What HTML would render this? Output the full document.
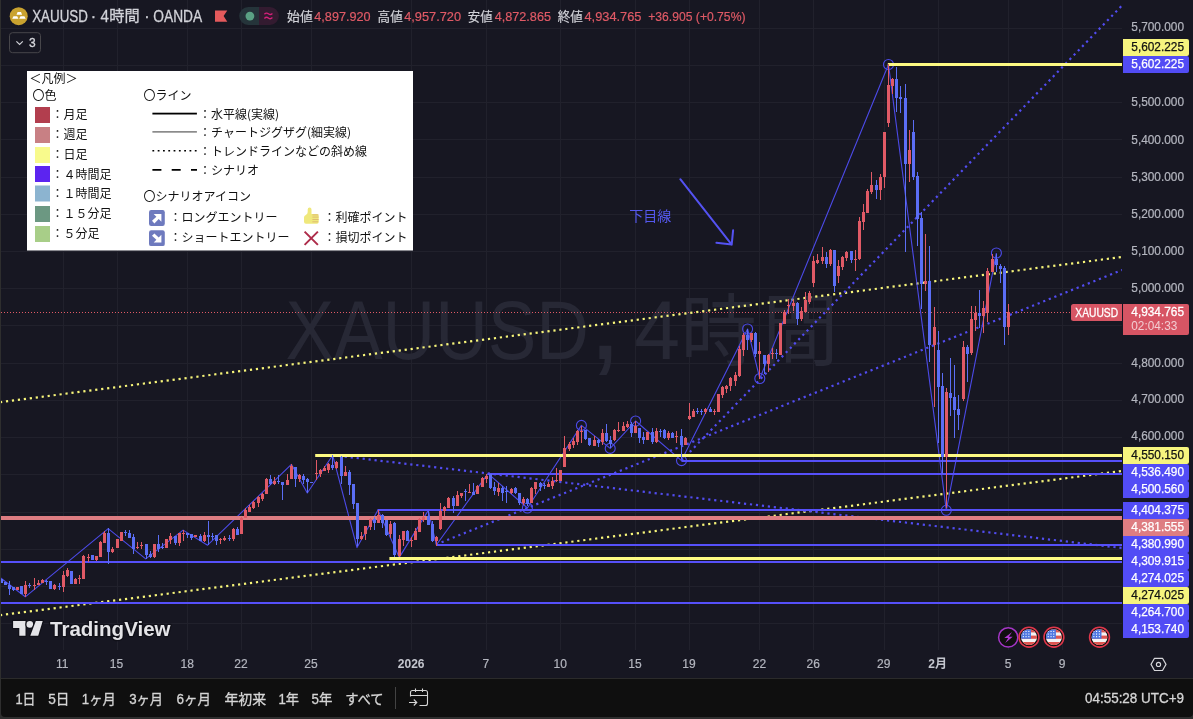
<!DOCTYPE html>
<html lang="ja"><head><meta charset="utf-8"><title>XAUUSD 4時間</title>
<style>html,body{margin:0;padding:0;background:#2e2e2e;overflow:hidden}svg{display:block}</style>
</head><body>
<svg width="1193" height="719" viewBox="0 0 1193 719" font-family="'Liberation Sans','Noto Sans CJK JP',sans-serif">
<rect width="1193" height="719" fill="#2e2e2e"/>
<path d="M1 0H1193V713a4 4 0 0 1 -4 4H5a4 4 0 0 1 -4 -4Z" fill="#0f0f0f"/>
<rect x="1" y="0" width="1192" height="678" fill="#171722"/>
<rect x="1" y="678" width="1192" height="1" fill="#2b2b2b"/>
<g fill="#21212c">
<rect x="63" y="0" width="1" height="650"/>
<rect x="117" y="0" width="1" height="650"/>
<rect x="187" y="0" width="1" height="650"/>
<rect x="241" y="0" width="1" height="650"/>
<rect x="311" y="0" width="1" height="650"/>
<rect x="411" y="0" width="1" height="650"/>
<rect x="486" y="0" width="1" height="650"/>
<rect x="560" y="0" width="1" height="650"/>
<rect x="635" y="0" width="1" height="650"/>
<rect x="689" y="0" width="1" height="650"/>
<rect x="759" y="0" width="1" height="650"/>
<rect x="813" y="0" width="1" height="650"/>
<rect x="884" y="0" width="1" height="650"/>
<rect x="938" y="0" width="1" height="650"/>
<rect x="1008" y="0" width="1" height="650"/>
<rect x="1062" y="0" width="1" height="650"/>
<rect x="1" y="28" width="1121" height="1"/>
<rect x="1" y="65" width="1121" height="1"/>
<rect x="1" y="102" width="1121" height="1"/>
<rect x="1" y="139" width="1121" height="1"/>
<rect x="1" y="177" width="1121" height="1"/>
<rect x="1" y="214" width="1121" height="1"/>
<rect x="1" y="251" width="1121" height="1"/>
<rect x="1" y="288" width="1121" height="1"/>
<rect x="1" y="325" width="1121" height="1"/>
<rect x="1" y="363" width="1121" height="1"/>
<rect x="1" y="400" width="1121" height="1"/>
<rect x="1" y="437" width="1121" height="1"/>
<rect x="1" y="474" width="1121" height="1"/>
<rect x="1" y="512" width="1121" height="1"/>
<rect x="1" y="549" width="1121" height="1"/>
<rect x="1" y="586" width="1121" height="1"/>
<rect x="1" y="623" width="1121" height="1"/>
</g>
<g fill="#272835" font-size="82">
<text x="285.4" y="358.8" font-size="82.5" textLength="303.5" lengthAdjust="spacingAndGlyphs">XAUUSD</text>
<text x="587.8" y="358.8" font-size="125">,</text>
<text x="634.2" y="358.8" font-size="82.5" textLength="45.8" lengthAdjust="spacingAndGlyphs">4</text>
<text x="718.6" y="359.6" font-size="79" text-anchor="middle" textLength="76" lengthAdjust="spacingAndGlyphs">時</text>
<text x="800.3" y="359.6" font-size="79" text-anchor="middle" textLength="76.5" lengthAdjust="spacingAndGlyphs">間</text>
</g>
<clipPath id="pane"><rect x="1" y="0" width="1121" height="650"/></clipPath>
<g clip-path="url(#pane)">
<line x1="1" y1="312.5" x2="1070" y2="312.5" stroke="#e05a66" stroke-width="1" stroke-dasharray="1 2"/>
<line x1="0" y1="402.2" x2="1122" y2="257.0" stroke="#f7f57a" stroke-width="2.2" stroke-dasharray="2.2 3.8"/>
<line x1="0" y1="615.2" x2="1122" y2="471.0" stroke="#f7f57a" stroke-width="2.2" stroke-dasharray="2.2 3.8"/>
<line x1="681.5" y1="460.6" x2="1121.5" y2="6" stroke="#524cf0" stroke-width="2.2" stroke-dasharray="2.2 3.8"/>
<line x1="436" y1="544.5" x2="1122" y2="270" stroke="#524cf0" stroke-width="2.2" stroke-dasharray="2.2 3.8"/>
<line x1="332.8" y1="455.2" x2="1122" y2="548" stroke="#524cf0" stroke-width="2.2" stroke-dasharray="2.2 3.8"/>
<polyline fill="none" stroke="#4c4ae8" stroke-width="1.1" stroke-linejoin="round" points="0,577.5 25.3,596.8 108.2,528.6 145.7,558.9 183.1,530.1 207.6,545.2 291.4,464.3 307.3,493.0 332.7,455.3 357.0,547.6 378.0,509.9 399.3,557.4 428.3,510.4 436.3,545.0 488.0,473.6 527.4,508.0 581.4,425.4 610.2,448.4 635.6,421.0 681.5,460.6 747.6,329.0 759.8,378.5 888.5,64.5 946.3,510.3 996.4,253.0"/>
<g fill="none" stroke="#4c4ae8" stroke-width="1.1">
<circle cx="527.4" cy="508.0" r="5"/>
<circle cx="581.4" cy="425.4" r="5"/>
<circle cx="610.2" cy="448.4" r="5"/>
<circle cx="635.6" cy="421.0" r="5"/>
<circle cx="681.5" cy="460.6" r="5"/>
<circle cx="747.6" cy="329.0" r="5"/>
<circle cx="759.8" cy="378.5" r="5"/>
<circle cx="888.5" cy="64.5" r="5"/>
<circle cx="946.3" cy="510.3" r="5"/>
<circle cx="996.4" cy="253.0" r="5"/>
</g>
<g stroke="#5452f2" stroke-width="2" fill="none" stroke-linecap="round" stroke-linejoin="round">
<path d="M680.3 179.2L731.7 244.6M716.4 242.8L731.7 244.6L733.1 230.3"/>
</g>
<text x="629.3" y="220.6" font-size="14" fill="#5558ee">下目線</text>
<rect x="1" y="602" width="1121" height="2" fill="#5650fa"/>
<rect x="1" y="561" width="1121" height="2" fill="#5650fa"/>
<rect x="436" y="544" width="686" height="2" fill="#5650fa"/>
<rect x="377.6" y="509" width="744.4" height="2" fill="#5650fa"/>
<rect x="488" y="473" width="634" height="2" fill="#5650fa"/>
<rect x="681.5" y="460" width="440.5" height="2" fill="#5650fa"/>
<rect x="1" y="516" width="1121" height="4" fill="#de7d82"/>
<rect x="389.4" y="557" width="732.6" height="3" fill="#fdfa82"/>
<rect x="315.2" y="454" width="806.8" height="3" fill="#fdfa82"/>
<rect x="887.8" y="63" width="234.20000000000005" height="3" fill="#fdfa82"/>
<path fill="#e05a66" d="M17 587h1V590h-1ZM16 587h3V590h-3ZM25 581h1V597h-1ZM24 585h3V594h-3ZM34 578h1V590h-1ZM33 585h3V586h-3ZM38 580h1V585h-1ZM37 583h3V585h-3ZM42 579h1V583h-1ZM41 580h3V583h-3ZM54 584h1V590h-1ZM53 585h3V589h-3ZM63 571h1V592h-1ZM62 575h3V587h-3ZM67 568h1V577h-1ZM66 570h3V576h-3ZM75 578h1V584h-1ZM74 579h3V584h-3ZM79 575h1V584h-1ZM78 578h3V579h-3ZM83 555h1V579h-1ZM82 556h3V579h-3ZM88 554h1V562h-1ZM87 557h3V558h-3ZM96 556h1V561h-1ZM95 556h3V560h-3ZM100 541h1V557h-1ZM99 542h3V557h-3ZM104 531h1V543h-1ZM103 533h3V543h-3ZM112 547h1V553h-1ZM111 549h3V552h-3ZM117 539h1V548h-1ZM116 539h3V548h-3ZM121 532h1V541h-1ZM120 532h3V541h-3ZM137 542h1V549h-1ZM136 547h3V548h-3ZM141 542h1V549h-1ZM140 545h3V546h-3ZM154 544h1V558h-1ZM153 544h3V557h-3ZM166 539h1V548h-1ZM165 539h3V548h-3ZM170 533h1V544h-1ZM169 536h3V540h-3ZM179 533h1V546h-1ZM178 533h3V543h-3ZM183 530h1V541h-1ZM182 533h3V534h-3ZM195 535h1V537h-1ZM194 535h3V537h-3ZM204 532h1V542h-1ZM203 535h3V541h-3ZM220 538h1V544h-1ZM219 539h3V540h-3ZM224 536h1V541h-1ZM223 538h3V540h-3ZM233 528h1V541h-1ZM232 529h3V539h-3ZM241 517h1V534h-1ZM240 518h3V534h-3ZM245 508h1V518h-1ZM244 510h3V518h-3ZM249 505h1V512h-1ZM248 507h3V512h-3ZM253 501h1V509h-1ZM252 502h3V508h-3ZM258 496h1V507h-1ZM257 497h3V503h-3ZM262 493h1V501h-1ZM261 494h3V499h-3ZM266 478h1V494h-1ZM265 479h3V494h-3ZM274 477h1V485h-1ZM273 481h3V484h-3ZM287 474h1V485h-1ZM286 480h3V485h-3ZM291 464h1V479h-1ZM290 466h3V479h-3ZM299 474h1V482h-1ZM298 475h3V479h-3ZM316 460h1V480h-1ZM315 473h3V474h-3ZM320 469h1V477h-1ZM319 470h3V474h-3ZM324 466h1V471h-1ZM323 468h3V471h-3ZM328 463h1V473h-1ZM327 464h3V470h-3ZM336 461h1V469h-1ZM335 462h3V468h-3ZM345 466h1V476h-1ZM344 472h3V476h-3ZM361 532h1V540h-1ZM360 536h3V539h-3ZM365 526h1V540h-1ZM364 526h3V534h-3ZM370 518h1V530h-1ZM369 519h3V527h-3ZM378 510h1V523h-1ZM377 515h3V523h-3ZM390 521h1V538h-1ZM389 524h3V534h-3ZM399 535h1V557h-1ZM398 539h3V556h-3ZM403 531h1V546h-1ZM402 531h3V540h-3ZM411 537h1V547h-1ZM410 540h3V541h-3ZM415 528h1V540h-1ZM414 531h3V540h-3ZM419 518h1V532h-1ZM418 519h3V532h-3ZM423 512h1V522h-1ZM422 517h3V520h-3ZM436 536h1V546h-1ZM435 537h3V541h-3ZM440 503h1V530h-1ZM439 511h3V529h-3ZM444 506h1V516h-1ZM443 507h3V511h-3ZM448 497h1V508h-1ZM447 498h3V508h-3ZM457 491h1V506h-1ZM456 495h3V506h-3ZM461 493h1V498h-1ZM460 493h3V496h-3ZM469 484h1V493h-1ZM468 492h3V493h-3ZM477 485h1V494h-1ZM476 486h3V494h-3ZM482 477h1V487h-1ZM481 478h3V487h-3ZM486 474h1V483h-1ZM485 476h3V479h-3ZM498 483h1V496h-1ZM497 488h3V492h-3ZM511 488h1V494h-1ZM510 489h3V493h-3ZM523 497h1V505h-1ZM522 499h3V503h-3ZM531 487h1V503h-1ZM530 488h3V503h-3ZM535 482h1V494h-1ZM534 482h3V489h-3ZM548 482h1V487h-1ZM547 484h3V487h-3ZM552 477h1V489h-1ZM551 481h3V486h-3ZM556 468h1V482h-1ZM555 480h3V481h-3ZM560 470h1V481h-1ZM559 470h3V481h-3ZM564 436h1V467h-1ZM563 448h3V467h-3ZM569 442h1V451h-1ZM568 444h3V449h-3ZM573 438h1V448h-1ZM572 441h3V445h-3ZM577 430h1V445h-1ZM576 431h3V442h-3ZM581 426h1V443h-1ZM580 431h3V432h-3ZM594 436h1V446h-1ZM593 440h3V446h-3ZM602 429h1V445h-1ZM601 433h3V442h-3ZM614 429h1V441h-1ZM613 430h3V440h-3ZM618 422h1V432h-1ZM617 430h3V431h-3ZM623 422h1V431h-1ZM622 426h3V431h-3ZM627 421h1V428h-1ZM626 424h3V427h-3ZM635 421h1V433h-1ZM634 426h3V433h-3ZM647 432h1V440h-1ZM646 432h3V440h-3ZM656 428h1V443h-1ZM655 431h3V442h-3ZM668 431h1V440h-1ZM667 433h3V438h-3ZM676 431h1V443h-1ZM675 436h3V437h-3ZM685 437h1V445h-1ZM684 438h3V445h-3ZM689 403h1V420h-1ZM688 416h3V419h-3ZM693 409h1V417h-1ZM692 411h3V417h-3ZM705 408h1V414h-1ZM704 409h3V412h-3ZM714 409h1V415h-1ZM713 411h3V412h-3ZM718 394h1V412h-1ZM717 394h3V412h-3ZM722 386h1V398h-1ZM721 387h3V395h-3ZM726 385h1V393h-1ZM725 386h3V389h-3ZM730 377h1V391h-1ZM729 378h3V386h-3ZM735 372h1V386h-1ZM734 375h3V381h-3ZM739 346h1V377h-1ZM738 349h3V376h-3ZM743 333h1V356h-1ZM742 335h3V350h-3ZM751 333h1V342h-1ZM750 333h3V340h-3ZM759 342h1V379h-1ZM758 351h3V354h-3ZM768 354h1V372h-1ZM767 355h3V364h-3ZM772 348h1V359h-1ZM771 353h3V354h-3ZM780 323h1V355h-1ZM779 323h3V355h-3ZM784 310h1V324h-1ZM783 312h3V324h-3ZM788 299h1V314h-1ZM787 305h3V306h-3ZM793 300h1V311h-1ZM792 303h3V306h-3ZM801 307h1V321h-1ZM800 311h3V319h-3ZM805 292h1V313h-1ZM804 300h3V312h-3ZM809 291h1V304h-1ZM808 293h3V302h-3ZM813 256h1V287h-1ZM812 261h3V283h-3ZM817 254h1V264h-1ZM816 260h3V263h-3ZM822 247h1V264h-1ZM821 257h3V261h-3ZM830 249h1V266h-1ZM829 250h3V264h-3ZM838 260h1V283h-1ZM837 266h3V276h-3ZM842 256h1V270h-1ZM841 257h3V267h-3ZM846 251h1V261h-1ZM845 252h3V258h-3ZM855 250h1V271h-1ZM854 259h3V260h-3ZM859 217h1V260h-1ZM858 221h3V259h-3ZM863 204h1V230h-1ZM862 212h3V222h-3ZM867 189h1V213h-1ZM866 191h3V213h-3ZM871 172h1V194h-1ZM870 185h3V192h-3ZM880 174h1V200h-1ZM879 177h3V190h-3ZM884 132h1V188h-1ZM883 132h3V177h-3ZM888 64h1V127h-1ZM887 85h3V123h-3ZM892 78h1V94h-1ZM891 79h3V86h-3ZM909 130h1V182h-1ZM908 150h3V164h-3ZM925 234h1V291h-1ZM924 281h3V284h-3ZM934 307h1V407h-1ZM933 327h3V345h-3ZM946 388h1V508h-1ZM945 392h3V457h-3ZM963 341h1V401h-1ZM962 347h3V399h-3ZM971 306h1V355h-1ZM970 319h3V353h-3ZM975 306h1V331h-1ZM974 313h3V320h-3ZM983 301h1V333h-1ZM982 308h3V316h-3ZM987 268h1V322h-1ZM986 271h3V313h-3ZM992 254h1V272h-1ZM991 259h3V272h-3ZM1008 304h1V335h-1ZM1007 312h3V327h-3Z"/>
<path fill="#5b6ef5" d="M1 579h1V583h-1ZM0 579h3V583h-3ZM5 582h1V585h-1ZM4 582h3V585h-3ZM9 581h1V595h-1ZM8 585h3V589h-3ZM13 587h1V591h-1ZM12 587h3V590h-3ZM21 586h1V594h-1ZM20 586h3V594h-3ZM29 583h1V588h-1ZM28 585h3V586h-3ZM46 580h1V585h-1ZM45 581h3V582h-3ZM50 581h1V589h-1ZM49 581h3V589h-3ZM59 583h1V590h-1ZM58 586h3V587h-3ZM71 571h1V584h-1ZM70 571h3V584h-3ZM92 555h1V560h-1ZM91 555h3V560h-3ZM108 528h1V564h-1ZM107 533h3V552h-3ZM125 530h1V536h-1ZM124 532h3V533h-3ZM129 530h1V538h-1ZM128 533h3V538h-3ZM133 534h1V554h-1ZM132 537h3V549h-3ZM146 544h1V559h-1ZM145 544h3V555h-3ZM150 551h1V558h-1ZM149 554h3V557h-3ZM158 535h1V552h-1ZM157 544h3V549h-3ZM162 543h1V549h-1ZM161 547h3V548h-3ZM175 536h1V545h-1ZM174 536h3V543h-3ZM187 533h1V538h-1ZM186 533h3V535h-3ZM191 534h1V540h-1ZM190 534h3V538h-3ZM200 534h1V541h-1ZM199 536h3V541h-3ZM208 521h1V545h-1ZM207 535h3V537h-3ZM212 533h1V540h-1ZM211 536h3V537h-3ZM216 535h1V545h-1ZM215 535h3V541h-3ZM229 535h1V541h-1ZM228 538h3V539h-3ZM237 527h1V535h-1ZM236 529h3V535h-3ZM270 475h1V485h-1ZM269 479h3V484h-3ZM278 475h1V484h-1ZM277 481h3V482h-3ZM282 482h1V500h-1ZM281 482h3V485h-3ZM295 467h1V487h-1ZM294 467h3V479h-3ZM303 474h1V484h-1ZM302 476h3V480h-3ZM307 478h1V493h-1ZM306 479h3V482h-3ZM311 482h1V483h-1ZM310 482h3V483h-3ZM332 455h1V470h-1ZM331 465h3V468h-3ZM341 456h1V484h-1ZM340 457h3V476h-3ZM349 470h1V495h-1ZM348 472h3V485h-3ZM353 484h1V509h-1ZM352 484h3V504h-3ZM357 503h1V546h-1ZM356 503h3V539h-3ZM374 517h1V530h-1ZM373 519h3V523h-3ZM382 514h1V528h-1ZM381 515h3V523h-3ZM386 520h1V536h-1ZM385 520h3V535h-3ZM394 522h1V557h-1ZM393 523h3V555h-3ZM407 530h1V541h-1ZM406 531h3V541h-3ZM428 511h1V525h-1ZM427 516h3V525h-3ZM432 521h1V542h-1ZM431 524h3V541h-3ZM453 496h1V513h-1ZM452 498h3V506h-3ZM465 489h1V501h-1ZM464 491h3V492h-3ZM473 483h1V495h-1ZM472 492h3V495h-3ZM490 474h1V489h-1ZM489 474h3V488h-3ZM494 482h1V495h-1ZM493 487h3V491h-3ZM502 486h1V501h-1ZM501 488h3V493h-3ZM506 486h1V503h-1ZM505 491h3V492h-3ZM515 487h1V494h-1ZM514 488h3V493h-3ZM519 493h1V505h-1ZM518 493h3V503h-3ZM527 498h1V506h-1ZM526 499h3V504h-3ZM540 482h1V491h-1ZM539 483h3V487h-3ZM544 483h1V489h-1ZM543 485h3V486h-3ZM585 430h1V440h-1ZM584 430h3V439h-3ZM589 438h1V446h-1ZM588 438h3V445h-3ZM598 439h1V447h-1ZM597 440h3V443h-3ZM606 424h1V442h-1ZM605 433h3V441h-3ZM610 436h1V448h-1ZM609 440h3V444h-3ZM631 422h1V437h-1ZM630 424h3V433h-3ZM639 428h1V443h-1ZM638 428h3V438h-3ZM643 432h1V444h-1ZM642 437h3V440h-3ZM652 428h1V444h-1ZM651 432h3V442h-3ZM660 429h1V437h-1ZM659 431h3V432h-3ZM664 429h1V439h-1ZM663 430h3V438h-3ZM672 432h1V438h-1ZM671 433h3V438h-3ZM681 429h1V459h-1ZM680 436h3V445h-3ZM697 408h1V414h-1ZM696 411h3V412h-3ZM701 409h1V415h-1ZM700 411h3V412h-3ZM710 407h1V412h-1ZM709 409h3V412h-3ZM747 329h1V350h-1ZM746 335h3V340h-3ZM755 332h1V357h-1ZM754 333h3V354h-3ZM764 355h1V374h-1ZM763 355h3V364h-3ZM776 349h1V359h-1ZM775 353h3V354h-3ZM797 302h1V325h-1ZM796 303h3V319h-3ZM826 252h1V268h-1ZM825 257h3V264h-3ZM834 250h1V292h-1ZM833 250h3V286h-3ZM851 251h1V263h-1ZM850 251h3V260h-3ZM876 180h1V199h-1ZM875 185h3V190h-3ZM896 67h1V112h-1ZM895 79h3V98h-3ZM900 86h1V113h-1ZM899 97h3V99h-3ZM905 84h1V252h-1ZM904 98h3V164h-3ZM913 120h1V180h-1ZM912 132h3V177h-3ZM917 172h1V246h-1ZM916 176h3V219h-3ZM921 212h1V309h-1ZM920 218h3V284h-3ZM929 246h1V362h-1ZM928 281h3V345h-3ZM938 331h1V443h-1ZM937 350h3V387h-3ZM942 373h1V474h-1ZM941 386h3V457h-3ZM950 358h1V416h-1ZM949 393h3V398h-3ZM954 365h1V438h-1ZM953 397h3V410h-3ZM958 395h1V430h-1ZM957 409h3V415h-3ZM967 345h1V382h-1ZM966 347h3V354h-3ZM979 290h1V328h-1ZM978 313h3V316h-3ZM996 254h1V272h-1ZM995 259h3V265h-3ZM1000 264h1V283h-1ZM999 266h3V269h-3ZM1004 266h1V345h-1ZM1003 268h3V327h-3Z"/>
</g>
<rect x="27" y="71" width="386" height="179.5" fill="#ffffff"/>
<g font-family="'Noto Sans CJK JP','Liberation Sans',sans-serif" font-size="12" fill="#111111">
<text x="29.5" y="83.0">＜凡例＞</text>
<text x="32.5" y="100.3">〇色</text>
<text x="143.5" y="100.3">〇ライン</text>
<rect x="35" y="107" width="15" height="16" fill="#b23e4e"/>
<text x="51.5" y="119.2">：月足</text>
<rect x="35" y="127" width="15" height="16" fill="#c88084"/>
<text x="51.5" y="138.9">：週足</text>
<rect x="35" y="147" width="15" height="16" fill="#f8fa8c"/>
<text x="51.5" y="158.7">：日足</text>
<rect x="35" y="166" width="15" height="16" fill="#5c24f0"/>
<text x="51.5" y="178.6">：４時間足</text>
<rect x="35" y="185.5" width="15" height="16" fill="#8cb4d0"/>
<text x="51.5" y="197.6">：１時間足</text>
<rect x="35" y="206" width="15" height="16" fill="#6c9882"/>
<text x="51.5" y="218.4">：１５分足</text>
<rect x="35" y="226" width="15" height="16" fill="#a8ce88"/>
<text x="51.5" y="238.2">：５分足</text>
<rect x="152.4" y="112.7" width="44.5" height="1.8" fill="#000"/>
<rect x="152.4" y="131.3" width="44.5" height="1.2" fill="#5a5a5a"/>
<line x1="152.4" y1="150.8" x2="197" y2="150.8" stroke="#000" stroke-width="1.6" stroke-dasharray="1.8 3.5"/>
<line x1="152.4" y1="169.8" x2="197" y2="169.8" stroke="#000" stroke-width="1.8" stroke-dasharray="9 10.3"/>
<text x="199" y="119.2">：水平線(実線)</text>
<text x="199" y="137.1">：チャートジグザグ(細実線)</text>
<text x="199" y="156.1">：トレンドラインなどの斜め線</text>
<text x="199" y="174.5">：シナリオ</text>
<text x="143.5" y="200.8">〇シナリオアイコン</text>
<text x="169.5" y="222.1">：ロングエントリー</text>
<text x="169.5" y="242.3">：ショートエントリー</text>
<text x="323.5" y="222.1">：利確ポイント</text>
<text x="323.5" y="242.3">：損切ポイント</text>
</g>
<rect x="149" y="210.1" width="15.8" height="15.9" rx="2.2" fill="#6e7abe"/>
<path d="M153.7 214H161.4V221.7L158.7 219L154.4 223.4L152 220.7L156.4 216.7Z" fill="#fff"/>
<rect x="149" y="230.2" width="15.8" height="15.9" rx="2.2" fill="#6e7abe"/>
<path d="M161.4 234.7V242.4H153.7L156.4 239.7L152 235.7L154.4 233.4L158.7 237.4Z" fill="#fff"/>
<path d="M307.7 209.4a1.9 1.9 0 0 1 3.8 0V214H317a1.7 1.7 0 0 1 1.7 1.7V222a1.7 1.7 0 0 1 -1.7 1.7H306a2 2 0 0 1 -2 -2V217.6q0 -2 1.8 -2.7q1.9 -0.8 1.9 -2.9Z" fill="#efe87c"/>
<path d="M312.4 214.9H318.4M312.4 217.1H318.6M312.4 219.5H318.6M312.4 221.8H318.2" stroke="#d9b070" stroke-width="0.8" fill="none"/>
<path d="M304.6 231.6L317.9 244.9M317.9 231.6L304.6 244.9" stroke="#ae2c4a" stroke-width="2" fill="none"/>
<circle cx="18.7" cy="16.2" r="9" fill="#c9a22f"/>
<path d="M17.6 12.1H21L22.1 14.7H16.5ZM13.5 16.2H17.2L18.4 18.8H12.2ZM20.5 16.2H24.4L25.7 18.8H19.2Z" fill="#fff"/>
<text x="32.2" y="21.6" font-size="16" fill="#d1d2d8" textLength="55.7" lengthAdjust="spacingAndGlyphs" stroke="#d1d2d8" stroke-width="0.3">XAUUSD</text>
<text x="93.5" y="21.6" font-size="16" fill="#d1d2d8" text-anchor="middle" stroke="#d1d2d8" stroke-width="0.3">·</text>
<text x="100.4" y="21.6" font-size="16" fill="#d1d2d8" textLength="8.4" lengthAdjust="spacingAndGlyphs" stroke="#d1d2d8" stroke-width="0.3">4</text>
<text x="109.3" y="21.4" font-size="15.2" fill="#d1d2d8" textLength="30.4" lengthAdjust="spacingAndGlyphs" stroke="#d1d2d8" stroke-width="0.3">時間</text>
<text x="146.9" y="21.6" font-size="16" fill="#d1d2d8" text-anchor="middle" stroke="#d1d2d8" stroke-width="0.3">·</text>
<text x="153.3" y="21.6" font-size="16" fill="#d1d2d8" textLength="48.9" lengthAdjust="spacingAndGlyphs" stroke="#d1d2d8" stroke-width="0.3">OANDA</text>
<path d="M215 10.5H227.3L223.6 16.1L227.3 21.7H215Z" fill="#e45a5c"/>
<path d="M248.2 7H259V25H248.2a9 9 0 0 1 0 -18Z" fill="#25343a"/>
<path d="M259 7H269.9a9 9 0 0 1 0 18H259Z" fill="#331b30"/>
<circle cx="249.9" cy="16.1" r="4.4" fill="#5aa284"/>
<path d="M264.4 14.2q2 -2 4 -0.4t4 -0.4M264.4 18.4q2 -2 4 -0.4t4 -0.4" stroke="#d6207a" stroke-width="1.35" fill="none"/>
<text x="287.1" y="21.4" font-size="13" fill="#d1d2d8" textLength="25.6" lengthAdjust="spacingAndGlyphs" stroke="#d1d2d8" stroke-width="0.2">始値</text>
<text x="314.3" y="21.4" font-size="13" fill="#e05a66" textLength="56.3" lengthAdjust="spacingAndGlyphs" stroke="#e05a66" stroke-width="0.2">4,897.920</text>
<text x="377.6" y="21.4" font-size="13" fill="#d1d2d8" textLength="25.2" lengthAdjust="spacingAndGlyphs" stroke="#d1d2d8" stroke-width="0.2">高値</text>
<text x="404.2" y="21.4" font-size="13" fill="#e05a66" textLength="56.9" lengthAdjust="spacingAndGlyphs" stroke="#e05a66" stroke-width="0.2">4,957.720</text>
<text x="467.8" y="21.4" font-size="13" fill="#d1d2d8" textLength="24.8" lengthAdjust="spacingAndGlyphs" stroke="#d1d2d8" stroke-width="0.2">安値</text>
<text x="494.7" y="21.4" font-size="13" fill="#e05a66" textLength="56.3" lengthAdjust="spacingAndGlyphs" stroke="#e05a66" stroke-width="0.2">4,872.865</text>
<text x="557.7" y="21.4" font-size="13" fill="#d1d2d8" textLength="25.2" lengthAdjust="spacingAndGlyphs" stroke="#d1d2d8" stroke-width="0.2">終値</text>
<text x="584.5" y="21.4" font-size="13" fill="#e05a66" textLength="57.0" lengthAdjust="spacingAndGlyphs" stroke="#e05a66" stroke-width="0.2">4,934.765</text>
<text x="648.2" y="21.4" font-size="13" fill="#e05a66" textLength="97.3" lengthAdjust="spacingAndGlyphs" stroke="#e05a66" stroke-width="0.2">+36.905 (+0.75%)</text>
<rect x="9.5" y="32.7" width="31" height="20" rx="3" fill="none" stroke="#47464a"/>
<path d="M16.4 41.4L19.6 44.4L22.8 41.4" stroke="#d1d2d8" stroke-width="1.2" fill="none"/>
<text x="29" y="47.1" font-size="12" fill="#d6d7dc" stroke="#d6d7dc" stroke-width="0.3">3</text>
<g stroke="#101018" stroke-width="2.4" stroke-linejoin="round" fill="#e4e4e8" paint-order="stroke">
<path d="M13.1 621H25.5V635.7H19.3V628H13.1Z"/>
<circle cx="29.8" cy="624.4" r="3.3"/>
<path d="M35.8 621H42.7L38.2 635.7H30.3Z"/>
<text x="50" y="635.6" font-size="20.4" font-weight="bold" textLength="120.6" lengthAdjust="spacingAndGlyphs" stroke-width="2.6">TradingView</text>
</g>
<text x="1131.3" y="31.0" font-size="12" fill="#b4b6bf" textLength="52.7" lengthAdjust="spacingAndGlyphs" stroke="#b4b6bf" stroke-width="0.2">5,700.000</text>
<text x="1131.3" y="106.3" font-size="12" fill="#b4b6bf" textLength="52.7" lengthAdjust="spacingAndGlyphs" stroke="#b4b6bf" stroke-width="0.2">5,500.000</text>
<text x="1131.3" y="143.6" font-size="12" fill="#b4b6bf" textLength="52.7" lengthAdjust="spacingAndGlyphs" stroke="#b4b6bf" stroke-width="0.2">5,400.000</text>
<text x="1131.3" y="180.6" font-size="12" fill="#b4b6bf" textLength="52.7" lengthAdjust="spacingAndGlyphs" stroke="#b4b6bf" stroke-width="0.2">5,300.000</text>
<text x="1131.3" y="217.7" font-size="12" fill="#b4b6bf" textLength="52.7" lengthAdjust="spacingAndGlyphs" stroke="#b4b6bf" stroke-width="0.2">5,200.000</text>
<text x="1131.3" y="255.3" font-size="12" fill="#b4b6bf" textLength="52.7" lengthAdjust="spacingAndGlyphs" stroke="#b4b6bf" stroke-width="0.2">5,100.000</text>
<text x="1131.3" y="291.9" font-size="12" fill="#b4b6bf" textLength="52.7" lengthAdjust="spacingAndGlyphs" stroke="#b4b6bf" stroke-width="0.2">5,000.000</text>
<text x="1131.3" y="366.6" font-size="12" fill="#b4b6bf" textLength="52.7" lengthAdjust="spacingAndGlyphs" stroke="#b4b6bf" stroke-width="0.2">4,800.000</text>
<text x="1131.3" y="403.2" font-size="12" fill="#b4b6bf" textLength="52.7" lengthAdjust="spacingAndGlyphs" stroke="#b4b6bf" stroke-width="0.2">4,700.000</text>
<text x="1131.3" y="440.3" font-size="12" fill="#b4b6bf" textLength="52.7" lengthAdjust="spacingAndGlyphs" stroke="#b4b6bf" stroke-width="0.2">4,600.000</text>
<path d="M1123 39H1187a2 2 0 0 1 2 2V54a2 2 0 0 1 -2 2H1123Z" fill="#f6f47e"/>
<text x="1131.3" y="51.2" font-size="12" fill="#111" textLength="52.7" lengthAdjust="spacingAndGlyphs" stroke="#111" stroke-width="0.25">5,602.225</text>
<path d="M1123 56H1187a2 2 0 0 1 2 2V71a2 2 0 0 1 -2 2H1123Z" fill="#524cf5"/>
<text x="1131.3" y="68.2" font-size="12" fill="#fff" textLength="52.7" lengthAdjust="spacingAndGlyphs" stroke="#fff" stroke-width="0.25">5,602.225</text>
<path d="M1123 447H1187a2 2 0 0 1 2 2V462a2 2 0 0 1 -2 2H1123Z" fill="#f6f47e"/>
<text x="1131.3" y="459.2" font-size="12" fill="#111" textLength="52.7" lengthAdjust="spacingAndGlyphs" stroke="#111" stroke-width="0.25">4,550.150</text>
<path d="M1123 464H1187a2 2 0 0 1 2 2V479a2 2 0 0 1 -2 2H1123Z" fill="#524cf5"/>
<text x="1131.3" y="476.2" font-size="12" fill="#fff" textLength="52.7" lengthAdjust="spacingAndGlyphs" stroke="#fff" stroke-width="0.25">4,536.490</text>
<path d="M1123 481H1187a2 2 0 0 1 2 2V496a2 2 0 0 1 -2 2H1123Z" fill="#524cf5"/>
<text x="1131.3" y="493.2" font-size="12" fill="#fff" textLength="52.7" lengthAdjust="spacingAndGlyphs" stroke="#fff" stroke-width="0.25">4,500.560</text>
<path d="M1123 502H1187a2 2 0 0 1 2 2V517a2 2 0 0 1 -2 2H1123Z" fill="#524cf5"/>
<text x="1131.3" y="514.2" font-size="12" fill="#fff" textLength="52.7" lengthAdjust="spacingAndGlyphs" stroke="#fff" stroke-width="0.25">4,404.375</text>
<path d="M1123 519H1187a2 2 0 0 1 2 2V534a2 2 0 0 1 -2 2H1123Z" fill="#de7d82"/>
<text x="1131.3" y="531.2" font-size="12" fill="#fff" textLength="52.7" lengthAdjust="spacingAndGlyphs" stroke="#fff" stroke-width="0.25">4,381.555</text>
<path d="M1123 536H1187a2 2 0 0 1 2 2V551a2 2 0 0 1 -2 2H1123Z" fill="#524cf5"/>
<text x="1131.3" y="548.2" font-size="12" fill="#fff" textLength="52.7" lengthAdjust="spacingAndGlyphs" stroke="#fff" stroke-width="0.25">4,380.990</text>
<path d="M1123 553H1187a2 2 0 0 1 2 2V568a2 2 0 0 1 -2 2H1123Z" fill="#524cf5"/>
<text x="1131.3" y="565.2" font-size="12" fill="#fff" textLength="52.7" lengthAdjust="spacingAndGlyphs" stroke="#fff" stroke-width="0.25">4,309.915</text>
<path d="M1123 570H1187a2 2 0 0 1 2 2V585a2 2 0 0 1 -2 2H1123Z" fill="#524cf5"/>
<text x="1131.3" y="582.2" font-size="12" fill="#fff" textLength="52.7" lengthAdjust="spacingAndGlyphs" stroke="#fff" stroke-width="0.25">4,274.025</text>
<path d="M1123 587H1187a2 2 0 0 1 2 2V602a2 2 0 0 1 -2 2H1123Z" fill="#f6f47e"/>
<text x="1131.3" y="599.2" font-size="12" fill="#111" textLength="52.7" lengthAdjust="spacingAndGlyphs" stroke="#111" stroke-width="0.25">4,274.025</text>
<path d="M1123 604H1187a2 2 0 0 1 2 2V619a2 2 0 0 1 -2 2H1123Z" fill="#524cf5"/>
<text x="1131.3" y="616.2" font-size="12" fill="#fff" textLength="52.7" lengthAdjust="spacingAndGlyphs" stroke="#fff" stroke-width="0.25">4,264.700</text>
<path d="M1123 621H1187a2 2 0 0 1 2 2V636a2 2 0 0 1 -2 2H1123Z" fill="#524cf5"/>
<text x="1131.3" y="633.2" font-size="12" fill="#fff" textLength="52.7" lengthAdjust="spacingAndGlyphs" stroke="#fff" stroke-width="0.25">4,153.740</text>
<path d="M1123 304H1187a2 2 0 0 1 2 2V333a2 2 0 0 1 -2 2H1123Z" fill="#d75564"/>
<text x="1131.3" y="316.2" font-size="12" fill="#fff" textLength="52.7" lengthAdjust="spacingAndGlyphs" stroke="#fff" stroke-width="0.3">4,934.765</text>
<text x="1131.3" y="330.2" font-size="12" fill="#f3cdd2" textLength="46" lengthAdjust="spacingAndGlyphs">02:04:33</text>
<path d="M1073.5 304H1122V321H1073.5a2.5 2.5 0 0 1 -2.5 -2.5V306.5a2.5 2.5 0 0 1 2.5 -2.5Z" fill="#d75564"/>
<text x="1075.3" y="316.8" font-size="12" fill="#fff" textLength="42.8" lengthAdjust="spacingAndGlyphs" stroke="#fff" stroke-width="0.3">XAUUSD</text>
<circle cx="1008.2" cy="637.4" r="9.6" fill="#0f0f0f" stroke="#a436c6" stroke-width="1.5"/>
<path d="M1012.1 632L1004.3 637.9H1008.2L1005.2 643L1012.7 636.8H1008.8Z" fill="#b03ad2"/>
<circle cx="1029" cy="637.2" r="9.9" fill="#0f0f0f" stroke="#e1374b" stroke-width="1.6"/>
<clipPath id="f1029"><circle cx="1029" cy="637.2" r="8"/></clipPath>
<g clip-path="url(#f1029)">
<rect x="1021" y="629.2" width="16" height="16" fill="#f4f4f4"/>
<rect x="1021" y="629.2" width="16" height="3.2" fill="#de5550"/>
<rect x="1021" y="635.6" width="16" height="3.2" fill="#de5550"/>
<rect x="1021" y="642.0" width="16" height="3.2" fill="#de5550"/>
<rect x="1021" y="629.2" width="10" height="9.6" fill="#4e78e2"/>
<rect x="1022.8" y="630.9" width="1.1" height="1.1" fill="#fff"/>
<rect x="1022.8" y="633.5" width="1.1" height="1.1" fill="#fff"/>
<rect x="1022.8" y="636.1" width="1.1" height="1.1" fill="#fff"/>
<rect x="1025.5" y="630.9" width="1.1" height="1.1" fill="#fff"/>
<rect x="1025.5" y="633.5" width="1.1" height="1.1" fill="#fff"/>
<rect x="1025.5" y="636.1" width="1.1" height="1.1" fill="#fff"/>
<rect x="1028.3" y="630.9" width="1.1" height="1.1" fill="#fff"/>
<rect x="1028.3" y="633.5" width="1.1" height="1.1" fill="#fff"/>
<rect x="1028.3" y="636.1" width="1.1" height="1.1" fill="#fff"/>
</g>
<circle cx="1053.9" cy="637.2" r="9.9" fill="#0f0f0f" stroke="#e1374b" stroke-width="1.6"/>
<clipPath id="f1053"><circle cx="1053.9" cy="637.2" r="8"/></clipPath>
<g clip-path="url(#f1053)">
<rect x="1045.9" y="629.2" width="16" height="16" fill="#f4f4f4"/>
<rect x="1045.9" y="629.2" width="16" height="3.2" fill="#de5550"/>
<rect x="1045.9" y="635.6" width="16" height="3.2" fill="#de5550"/>
<rect x="1045.9" y="642.0" width="16" height="3.2" fill="#de5550"/>
<rect x="1045.9" y="629.2" width="10" height="9.6" fill="#4e78e2"/>
<rect x="1047.7" y="630.9" width="1.1" height="1.1" fill="#fff"/>
<rect x="1047.7" y="633.5" width="1.1" height="1.1" fill="#fff"/>
<rect x="1047.7" y="636.1" width="1.1" height="1.1" fill="#fff"/>
<rect x="1050.5" y="630.9" width="1.1" height="1.1" fill="#fff"/>
<rect x="1050.5" y="633.5" width="1.1" height="1.1" fill="#fff"/>
<rect x="1050.5" y="636.1" width="1.1" height="1.1" fill="#fff"/>
<rect x="1053.2" y="630.9" width="1.1" height="1.1" fill="#fff"/>
<rect x="1053.2" y="633.5" width="1.1" height="1.1" fill="#fff"/>
<rect x="1053.2" y="636.1" width="1.1" height="1.1" fill="#fff"/>
</g>
<circle cx="1099.5" cy="637.2" r="9.9" fill="#0f0f0f" stroke="#e1374b" stroke-width="1.6"/>
<clipPath id="f1099"><circle cx="1099.5" cy="637.2" r="8"/></clipPath>
<g clip-path="url(#f1099)">
<rect x="1091.5" y="629.2" width="16" height="16" fill="#f4f4f4"/>
<rect x="1091.5" y="629.2" width="16" height="3.2" fill="#de5550"/>
<rect x="1091.5" y="635.6" width="16" height="3.2" fill="#de5550"/>
<rect x="1091.5" y="642.0" width="16" height="3.2" fill="#de5550"/>
<rect x="1091.5" y="629.2" width="10" height="9.6" fill="#4e78e2"/>
<rect x="1093.3" y="630.9" width="1.1" height="1.1" fill="#fff"/>
<rect x="1093.3" y="633.5" width="1.1" height="1.1" fill="#fff"/>
<rect x="1093.3" y="636.1" width="1.1" height="1.1" fill="#fff"/>
<rect x="1096.0" y="630.9" width="1.1" height="1.1" fill="#fff"/>
<rect x="1096.0" y="633.5" width="1.1" height="1.1" fill="#fff"/>
<rect x="1096.0" y="636.1" width="1.1" height="1.1" fill="#fff"/>
<rect x="1098.8" y="630.9" width="1.1" height="1.1" fill="#fff"/>
<rect x="1098.8" y="633.5" width="1.1" height="1.1" fill="#fff"/>
<rect x="1098.8" y="636.1" width="1.1" height="1.1" fill="#fff"/>
</g>
<text x="62.3" y="668" font-size="12" fill="#b4b6bf" text-anchor="middle" stroke="#b4b6bf" stroke-width="0.2">11</text>
<text x="116.4" y="668" font-size="12" fill="#b4b6bf" text-anchor="middle" stroke="#b4b6bf" stroke-width="0.2">15</text>
<text x="187.3" y="668" font-size="12" fill="#b4b6bf" text-anchor="middle" stroke="#b4b6bf" stroke-width="0.2">18</text>
<text x="241" y="668" font-size="12" fill="#b4b6bf" text-anchor="middle" stroke="#b4b6bf" stroke-width="0.2">22</text>
<text x="311" y="668" font-size="12" fill="#b4b6bf" text-anchor="middle" stroke="#b4b6bf" stroke-width="0.2">25</text>
<text x="411.2" y="668" font-size="12" fill="#c4c6ce" text-anchor="middle" font-weight="bold">2026</text>
<text x="485.8" y="668" font-size="12" fill="#b4b6bf" text-anchor="middle" stroke="#b4b6bf" stroke-width="0.2">7</text>
<text x="560.2" y="668" font-size="12" fill="#b4b6bf" text-anchor="middle" stroke="#b4b6bf" stroke-width="0.2">10</text>
<text x="635" y="668" font-size="12" fill="#b4b6bf" text-anchor="middle" stroke="#b4b6bf" stroke-width="0.2">15</text>
<text x="689" y="668" font-size="12" fill="#b4b6bf" text-anchor="middle" stroke="#b4b6bf" stroke-width="0.2">19</text>
<text x="759.4" y="668" font-size="12" fill="#b4b6bf" text-anchor="middle" stroke="#b4b6bf" stroke-width="0.2">22</text>
<text x="813.2" y="668" font-size="12" fill="#b4b6bf" text-anchor="middle" stroke="#b4b6bf" stroke-width="0.2">26</text>
<text x="883.8" y="668" font-size="12" fill="#b4b6bf" text-anchor="middle" stroke="#b4b6bf" stroke-width="0.2">29</text>
<text x="937.6" y="668" font-size="12" fill="#c4c6ce" text-anchor="middle" font-weight="bold">2月</text>
<text x="1008" y="668" font-size="12" fill="#b4b6bf" text-anchor="middle" stroke="#b4b6bf" stroke-width="0.2">5</text>
<text x="1062" y="668" font-size="12" fill="#b4b6bf" text-anchor="middle" stroke="#b4b6bf" stroke-width="0.2">9</text>
<path d="M1154.5 658.3H1162.5L1166 664.4L1162.5 670.5H1154.5L1151 664.4Z" fill="none" stroke="#d6d6da" stroke-width="1.15" stroke-linejoin="round"/>
<circle cx="1158.5" cy="664.4" r="2.1" fill="none" stroke="#d6d6da" stroke-width="1.15"/>
<text x="15.4" y="704.2" font-size="14" fill="#d6d6d6" textLength="20.1" lengthAdjust="spacingAndGlyphs" stroke="#d6d6d6" stroke-width="0.3">1日</text>
<text x="48.2" y="704.2" font-size="14" fill="#d6d6d6" textLength="21.2" lengthAdjust="spacingAndGlyphs" stroke="#d6d6d6" stroke-width="0.3">5日</text>
<text x="81.8" y="704.2" font-size="14" fill="#d6d6d6" textLength="33.9" lengthAdjust="spacingAndGlyphs" stroke="#d6d6d6" stroke-width="0.3">1ヶ月</text>
<text x="129.2" y="704.2" font-size="14" fill="#d6d6d6" textLength="33.9" lengthAdjust="spacingAndGlyphs" stroke="#d6d6d6" stroke-width="0.3">3ヶ月</text>
<text x="176.6" y="704.2" font-size="14" fill="#d6d6d6" textLength="34.4" lengthAdjust="spacingAndGlyphs" stroke="#d6d6d6" stroke-width="0.3">6ヶ月</text>
<text x="224.4" y="704.2" font-size="14" fill="#d6d6d6" textLength="41.7" lengthAdjust="spacingAndGlyphs" stroke="#d6d6d6" stroke-width="0.3">年初来</text>
<text x="278.4" y="704.2" font-size="14" fill="#d6d6d6" textLength="20.5" lengthAdjust="spacingAndGlyphs" stroke="#d6d6d6" stroke-width="0.3">1年</text>
<text x="311.6" y="704.2" font-size="14" fill="#d6d6d6" textLength="20.8" lengthAdjust="spacingAndGlyphs" stroke="#d6d6d6" stroke-width="0.3">5年</text>
<text x="345.2" y="704.2" font-size="14" fill="#d6d6d6" textLength="38.3" lengthAdjust="spacingAndGlyphs" stroke="#d6d6d6" stroke-width="0.3">すべて</text>
<rect x="395" y="687" width="1" height="22" fill="#434343"/>
<g fill="none" stroke="#d6d6d6" stroke-width="1.1">
<path d="M410.5 696.5V692.5a2 2 0 0 1 2 -2H425.5a2 2 0 0 1 2 2V703.5a2 2 0 0 1 -2 2H419.5M410.5 695.5H427.5M415.5 688.5V692M422.5 688.5V692M409 702.5H416.5M413.8 699.5L416.8 702.5L413.8 705.5"/>
</g>
<text x="1085" y="702.9" font-size="14" fill="#d6d6d6" textLength="99" lengthAdjust="spacingAndGlyphs" stroke="#d6d6d6" stroke-width="0.3">04:55:28 UTC+9</text>
</svg>
</body></html>
